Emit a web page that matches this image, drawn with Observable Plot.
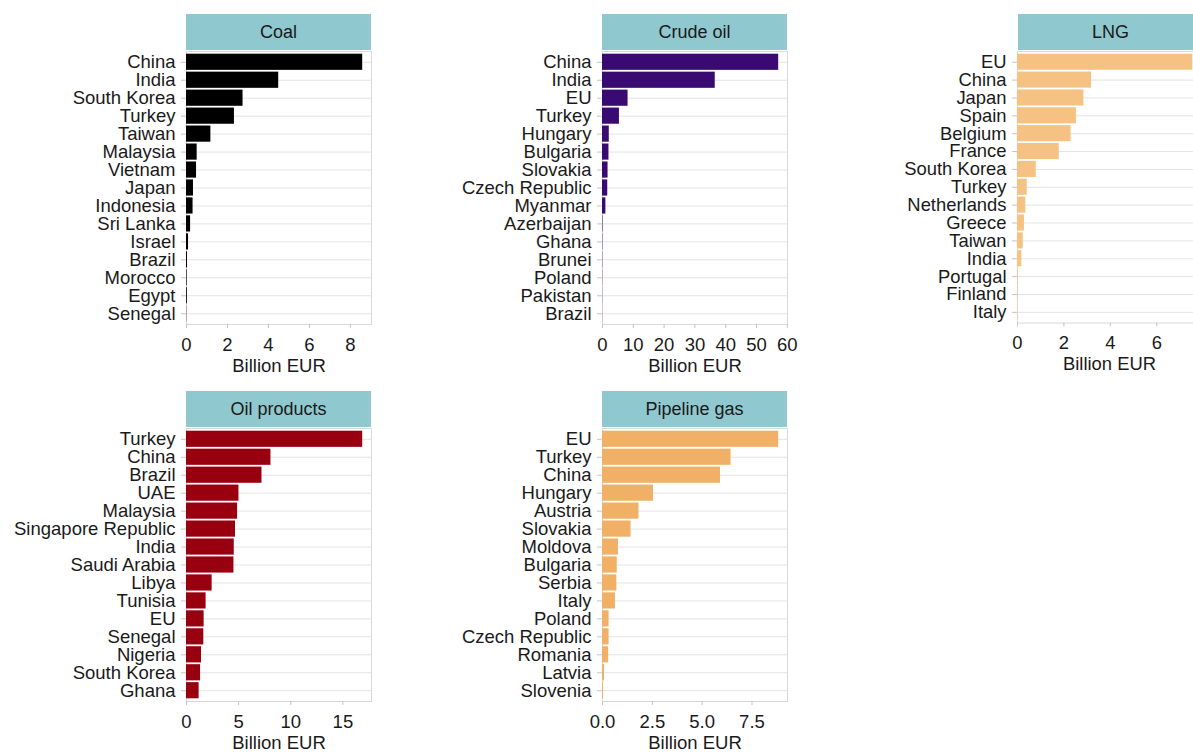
<!DOCTYPE html>
<html>
<head>
<meta charset="utf-8">
<script src="https://cdn.jsdelivr.net/npm/d3@7"></script>
<script src="https://cdn.jsdelivr.net/npm/@observablehq/plot@0.6"></script>
<style>
  html, body { margin: 0; padding: 0; background: #fff; }
  #chart { position: relative; width: 1193px; height: 752px; overflow: hidden; background: #fff;
           font-family: "Liberation Sans", Arial, sans-serif; }
  .panel { position: absolute; }
  .strip { background: #8fc8cf; color: #1a1a1a; font-size: 18px; text-align: center;
           height: 36px; line-height: 36px; }
  .panel svg { display: block; overflow: visible; }
</style>
</head>
<body>
<div id="chart"></div>
<script>
// ---------- data ----------
const coalCountries = ["China","India","South Korea","Turkey","Taiwan","Malaysia","Vietnam","Japan","Indonesia","Sri Lanka","Israel","Brazil","Morocco","Egypt","Senegal"];
const coalValues    = [8.6, 4.5, 2.76, 2.34, 1.19, 0.52, 0.49, 0.34, 0.32, 0.2, 0.1, 0.05, 0.03, 0.04, 0.01];

const crudeCountries = ["China","India","EU","Turkey","Hungary","Bulgaria","Slovakia","Czech Republic","Myanmar","Azerbaijan","Ghana","Brunei","Poland","Pakistan","Brazil"];
const crudeValues    = [57.2, 36.6, 8.3, 5.5, 2.2, 2.1, 1.8, 1.7, 1.1, 0.15, 0.1, 0.08, 0.06, 0.05, 0.03];

const lngCountries = ["EU","China","Japan","Spain","Belgium","France","South Korea","Turkey","Netherlands","Greece","Taiwan","India","Portugal","Finland","Italy"];
const lngValues    = [7.55, 3.19, 2.86, 2.54, 2.31, 1.8, 0.81, 0.42, 0.36, 0.3, 0.25, 0.19, 0.03, 0.02, 0.01];

const oilCountries = ["Turkey","China","Brazil","UAE","Malaysia","Singapore Republic","India","Saudi Arabia","Libya","Tunisia","EU","Senegal","Nigeria","South Korea","Ghana"];
const oilValues    = [16.9, 8.1, 7.24, 5.03, 4.9, 4.7, 4.58, 4.55, 2.46, 1.88, 1.69, 1.66, 1.44, 1.35, 1.21];

const pipeCountries = ["EU","Turkey","China","Hungary","Austria","Slovakia","Moldova","Bulgaria","Serbia","Italy","Poland","Czech Republic","Romania","Latvia","Slovenia"];
const pipeValues    = [8.84, 6.45, 5.92, 2.56, 1.83, 1.43, 0.8, 0.74, 0.72, 0.65, 0.33, 0.33, 0.31, 0.1, 0.05];

const coalTicks  = [0, 2, 4, 6, 8];
const crudeTicks = [0, 10, 20, 30, 40, 50, 60];
const lngTicks   = [0, 2, 4, 6];
const oilTicks   = [0, 5, 10, 15];
const pipeTicks  = [0, 2.5, 5, 7.5];

const panelTitles = ["Coal", "Crude oil", "LNG", "Oil products", "Pipeline gas"];
const xLabel = "Billion EUR";

// ---------- layout / style ----------
const PW = 185, PH = 273;
const ML = 200, MR = 2, MT = 1, MB = 62;
const panels = [
  {title: panelTitles[0], countries: coalCountries,  values: coalValues,  ticks: coalTicks,  fmt: d3.format("d"),   color: "#000000", left: 186,  top: 14},
  {title: panelTitles[1], countries: crudeCountries, values: crudeValues, ticks: crudeTicks, fmt: d3.format("d"),   color: "#3a0a73", left: 602,  top: 14},
  {title: panelTitles[2], countries: lngCountries,   values: lngValues,   ticks: lngTicks,   fmt: d3.format("d"),   color: "#f5c283", left: 1018, top: 14},
  {title: panelTitles[3], countries: oilCountries,   values: oilValues,   ticks: oilTicks,   fmt: d3.format("d"),   color: "#99000f", left: 186,  top: 391},
  {title: panelTitles[4], countries: pipeCountries,  values: pipeValues,  ticks: pipeTicks,  fmt: d3.format(".1f"), color: "#f0b066", left: 602,  top: 391}
];

const root = document.getElementById("chart");

for (const p of panels) {
  const data = p.countries.map((c, i) => ({country: c, value: p.values[i]}));
  const xmax = d3.max(p.values) * 1.05;

  const wrap = document.createElement("div");
  wrap.className = "panel";
  wrap.style.left = (p.left - ML) + "px";
  wrap.style.top = p.top + "px";

  const strip = document.createElement("div");
  strip.className = "strip";
  strip.style.marginLeft = ML + "px";
  strip.style.width = PW + "px";
  strip.textContent = p.title;
  wrap.appendChild(strip);

  const chart = Plot.plot({
    width: ML + PW + MR,
    height: MT + PH + MB,
    marginLeft: ML, marginRight: MR, marginTop: MT, marginBottom: MB,
    style: {fontSize: "18.5px", fontFamily: "'Liberation Sans', Arial, sans-serif", color: "#1a1a1a", background: "transparent", overflow: "visible"},
    x: {domain: [0, xmax], label: null},
    y: {domain: p.countries, paddingInner: 0.1, paddingOuter: 0.15, round: false, label: null},
    marks: [
      Plot.gridY({stroke: "#e3e3e3", strokeOpacity: 1}),
      Plot.frame({stroke: "#d9d9d9"}),
      Plot.barX(data, {x: "value", y: "country", fill: p.color}),
      Plot.axisY({tickSize: 5, tickPadding: 6, stroke: "#c4c4c4", label: null}),
      Plot.axisX({ticks: p.ticks, tickFormat: p.fmt, tickSize: 4, tickPadding: 9, stroke: "#c4c4c4",
                  label: xLabel, labelAnchor: "center", labelArrow: "none", labelOffset: 47})
    ]
  });
  wrap.appendChild(chart);
  root.appendChild(wrap);
}
</script>
</body>
</html>
